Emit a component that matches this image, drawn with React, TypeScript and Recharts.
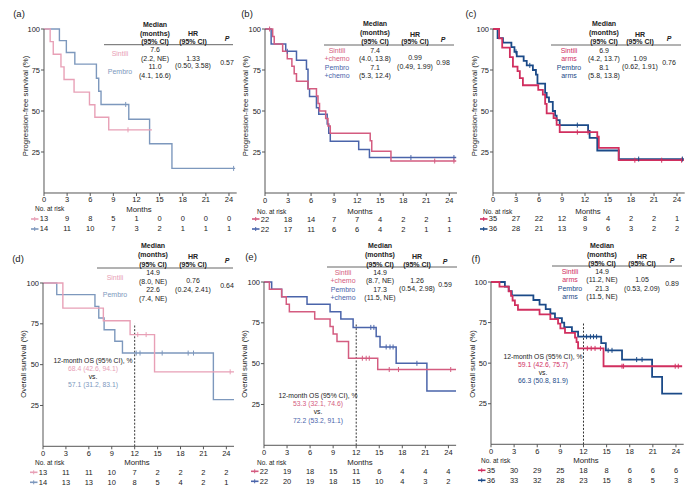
import React from 'react';
import { ComposedChart, Line, Scatter, XAxis, YAxis, ReferenceLine } from 'recharts';

const FONT = '"Liberation Sans", Arial, sans-serif';
const MONTH_TICKS = [0, 3, 6, 9, 12, 15, 18, 21, 24];
const SURV_TICKS = [25, 50, 75, 100];

// ---------- (a) PFS, monotherapy ----------
const aSinT = [0, 0.8, 1.2, 2.2, 2.6, 3.9, 5.9, 6.6, 8.4, 14.0];
const aSinS = [100, 92.3, 84.6, 76.9, 69.2, 61.5, 53.8, 46.2, 38.5, 38.5];
const aSinC = [10.9];
const aPemT = [0, 2.0, 2.9, 4.0, 6.8, 7.1, 7.4, 11.0, 13.7, 16.6, 24.8];
const aPemS = [100, 92.9, 85.7, 78.6, 70.0, 62.0, 54.0, 45.0, 30.0, 15.0, 15.0];
const aPemC = [10.6, 24.6];
const aRiskSin = [13, 9, 8, 5, 1, 0, 0, 0, 0];
const aRiskPem = [14, 11, 10, 7, 3, 2, 1, 1, 1];

// ---------- (b) PFS, + chemo ----------
const bSinT = [0, 1.0, 1.2, 2.3, 2.9, 3.5, 3.8, 4.1, 5.6, 6.7, 6.9, 7.1, 7.9, 8.2, 8.5, 13.7, 13.9, 16.4, 24.9];
const bSinS = [100, 95.5, 90.9, 86.4, 81.8, 77.3, 72.7, 68.2, 63.6, 59.1, 54.5, 50.0, 45.5, 40.9, 36.4, 31.8, 25.5, 19.5, 19.5];
const bSinC = [0.6, 22.1, 24.6];
const bPemT = [0, 0.8, 2.7, 4.1, 5.4, 5.6, 5.8, 6.7, 7.0, 8.1, 8.3, 8.5, 12.2, 13.6, 24.9];
const bPemS = [100, 90.9, 86.4, 81.0, 75.5, 63.6, 58.8, 52.0, 48.0, 42.0, 36.4, 31.6, 26.5, 21.6, 21.6];
const bPemC = [2.9, 19.0, 24.6];
const bRiskSin = [22, 18, 14, 7, 7, 4, 2, 2, 1];
const bRiskPem = [22, 17, 11, 6, 6, 4, 2, 1, 1];

// ---------- (c) PFS, pooled arms ----------
const cSinT = [0, 0.8, 1.2, 2.2, 2.6, 3.2, 3.5, 3.9, 5.9, 6.5, 6.8, 7.0, 7.9, 8.3, 8.7, 13.6, 13.8, 16.4, 24.9];
const cSinS = [100, 94.3, 88.6, 82.9, 77.1, 74.3, 70.0, 65.7, 62.9, 60.0, 54.3, 48.6, 45.7, 41.5, 37.1, 34.3, 27.5, 20.0, 20.0];
const cSinC = [11.0, 12.4, 18.5, 22.0, 24.6];
const cPemT = [0, 0.6, 1.3, 2.4, 2.8, 3.1, 4.0, 4.4, 5.2, 5.6, 5.8, 6.8, 7.0, 7.3, 7.8, 8.1, 8.3, 8.7, 12.4, 12.6, 13.6, 16.4, 24.9];
const cPemS = [100, 94.4, 91.7, 88.9, 86.1, 83.3, 80.6, 77.8, 75.0, 72.2, 66.7, 61.1, 58.3, 55.6, 50.0, 47.2, 44.4, 41.4, 37.9, 33.6, 25.9, 20.7, 20.7];
const cPemC = [3.0, 4.8, 11.0, 19.0, 24.7];
const cRiskSin = [35, 27, 22, 12, 8, 4, 2, 2, 1];
const cRiskPem = [36, 28, 21, 13, 9, 6, 3, 2, 2];

// ---------- (d) OS, monotherapy ----------
const dSinT = [0, 2.6, 7.9, 11.4, 14.6, 25];
const dSinS = [100, 84.6, 76.9, 68.4, 45.6, 45.6];
const dSinC = [12.4, 13.5, 24.5];
const dPemT = [0, 1.8, 6.8, 7.3, 8.0, 9.4, 10.4, 22.3, 25];
const dPemS = [100, 92.9, 85.7, 78.6, 71.4, 64.3, 57.1, 28.6, 28.6];
const dPemC = [12.2, 12.7, 15.6, 19.0, 19.7];
const dRiskSin = [13, 11, 11, 10, 7, 2, 2, 2, 2];
const dRiskPem = [14, 13, 13, 10, 8, 5, 4, 2, 1];

// ---------- (e) OS, + chemo ----------
const eSinT = [0, 0.7, 2.3, 2.9, 3.3, 6.6, 8.6, 9.0, 9.5, 11.0, 14.8, 25];
const eSinS = [100, 95.5, 90.9, 86.4, 81.8, 77.3, 72.7, 68.2, 63.6, 53.3, 46.4, 46.4];
const eSinC = [12.8, 13.3, 13.7, 16.3, 17.5, 24.3];
const ePemT = [0, 1.0, 2.3, 5.6, 8.6, 10.0, 11.6, 14.6, 15.1, 17.2, 21.2, 25];
const ePemS = [100, 95.5, 90.9, 86.4, 81.8, 77.3, 72.2, 66.7, 60.2, 50.2, 33.3, 33.3];
const ePemC = [13.9, 14.3, 15.9, 16.4, 16.8, 19.9];
const eRiskSin = [22, 19, 18, 15, 11, 6, 4, 4, 4];
const eRiskPem = [22, 20, 19, 18, 15, 10, 4, 3, 2];

// ---------- (f) OS, pooled arms ----------
const fSinT = [0, 1.1, 2.3, 2.6, 2.8, 3.1, 3.5, 6.3, 7.7, 8.7, 9.0, 9.6, 10.9, 11.1, 11.3, 14.6, 24.8];
const fSinS = [100, 97.1, 94.3, 91.4, 88.6, 85.7, 82.9, 80.0, 77.1, 74.3, 71.4, 68.6, 65.7, 62.9, 59.1, 48.1, 48.1];
const fSinC = [12.5, 13.0, 13.5, 14.2, 17.0, 17.2, 23.9, 24.3];
const fPemT = [0, 1.8, 2.3, 2.7, 5.5, 6.3, 7.1, 7.7, 8.3, 9.2, 9.5, 10.5, 11.3, 14.3, 14.9, 17.0, 20.9, 22.2, 24.8];
const fPemS = [100, 97.2, 94.4, 91.7, 88.9, 86.1, 83.3, 80.6, 77.8, 75.0, 72.2, 69.4, 66.3, 62.4, 57.9, 52.2, 41.5, 31.2, 31.2];
const fPemC = [12.4, 12.9, 13.3, 13.7, 15.2, 15.7, 18.9, 19.6];
const fRiskSin = [35, 30, 29, 25, 18, 8, 6, 6, 6];
const fRiskPem = [36, 33, 32, 28, 23, 15, 8, 5, 3];

// ---------- colours ----------
const PAL = {
  light: { sin: '#e8a0b6', pem: '#7d98bd', w: 1.4 },
  mid: { sin: '#d45c80', pem: '#4a64aa', w: 1.5 },
  dark: { sin: '#d12f5f', pem: '#1b4a88', w: 1.8 },
};

function steps(t: number[], s: number[]) {
  return t.map((x, i) => ({ t: x, s: s[i] }));
}
function valueAt(t: number[], s: number[], x: number) {
  let v = s[0];
  for (let i = 0; i < t.length; i++) if (t[i] <= x) v = s[i];
  return v;
}
function censorPts(t: number[], s: number[], c: number[]) {
  return c.map((x) => ({ t: x, s: valueAt(t, s, x) }));
}

type Geom = { x0: number; x25: number; y100: number; y0: number };

function KMPanel(props: {
  g: Geom;
  pal: { sin: string; pem: string; w: number };
  sinT: number[]; sinS: number[]; sinC: number[];
  pemT: number[]; pemS: number[]; pemC: number[];
  riskSin: number[]; riskPem: number[];
  dashed?: boolean;
}) {
  const { g, pal } = props;
  const W = g.x25 - g.x0 + 48;
  const H = g.y0 - g.y100 + 55;
  const tick = (p: any) => {
    const { x, y, payload } = p;
    const i = MONTH_TICKS.indexOf(payload.value);
    const ay = y - 3;
    const common = { textAnchor: 'middle' as const, dominantBaseline: 'central' as const, fontSize: 7.5, fontFamily: FONT, fill: '#222' };
    return (
      <g>
        <text x={x} y={ay + 7} {...common}>{payload.value}</text>
        <text x={x} y={ay + 26} {...common}>{props.riskSin[i]}</text>
        <text x={x} y={ay + 36} {...common}>{props.riskPem[i]}</text>
        {i === 0 && (
          <g>
            <line x1={x - 13} x2={x - 5.5} y1={ay + 26} y2={ay + 26} stroke={pal.sin} strokeWidth={1.6} />
            <line x1={x - 9.3} x2={x - 9.3} y1={ay + 24} y2={ay + 28} stroke={pal.sin} strokeWidth={1} />
            <line x1={x - 13} x2={x - 5.5} y1={ay + 36} y2={ay + 36} stroke={pal.pem} strokeWidth={1.6} />
            <line x1={x - 9.3} x2={x - 9.3} y1={ay + 34} y2={ay + 38} stroke={pal.pem} strokeWidth={1} />
          </g>
        )}
      </g>
    );
  };
  const cens = (color: string) => (p: any) => (
    <line x1={p.cx} x2={p.cx} y1={p.cy - 2.5} y2={p.cy + 2.5} stroke={color} strokeWidth={1} />
  );
  return (
    <div style={{ position: 'absolute', left: g.x0 - 44, top: g.y100 - 10 }}>
      <ComposedChart width={W} height={H} margin={{ top: 10, right: 4, left: 14, bottom: 5 }}>
        <XAxis
          type="number" dataKey="t" domain={[0, 25]} ticks={MONTH_TICKS} interval={0}
          tick={tick} tickSize={3} tickMargin={0} height={40} stroke="#555" allowDataOverflow
        />
        <YAxis
          type="number" dataKey="s" domain={[0, 100]} ticks={SURV_TICKS} interval={0}
          tickSize={3} tickMargin={1} width={30} stroke="#555"
          tick={{ fontSize: 7.5, fill: '#222', fontFamily: FONT }}
        />
        {props.dashed && (
          <ReferenceLine segment={[{ x: 12, y: 0 }, { x: 12, y: 75 }]} stroke="#333" strokeDasharray="2 1.6" strokeWidth={1} />
        )}
        <Line data={steps(props.pemT, props.pemS)} dataKey="s" type="stepAfter" stroke={pal.pem} strokeWidth={pal.w} dot={false} isAnimationActive={false} />
        <Line data={steps(props.sinT, props.sinS)} dataKey="s" type="stepAfter" stroke={pal.sin} strokeWidth={pal.w} dot={false} isAnimationActive={false} />
        <Scatter data={censorPts(props.pemT, props.pemS, props.pemC)} dataKey="s" shape={cens(pal.pem)} isAnimationActive={false} />
        <Scatter data={censorPts(props.sinT, props.sinS, props.sinC)} dataKey="s" shape={cens(pal.sin)} isAnimationActive={false} />
      </ComposedChart>
    </div>
  );
}

type T = { x: number; y: number; s: string; c?: string; b?: boolean; i?: boolean; fs?: number; a?: 'start' | 'middle' | 'end'; r?: boolean };

function tableTexts(
  cx: { med: number; hr: number; p: number; lab: number },
  hy: { med: number; mon: number; ci: number; hr: number; p: number },
  rows: { y1: number; y2: number; y3: number; y4: number; hr1: number; hr2: number; p: number },
  labels: [string, string, string, string],
  vals: [string, string, string, string, string, string, string],
  col: { sin: string; pem: string }
): T[] {
  const D = '#222';
  return [
    { x: cx.med, y: hy.med, s: 'Median', b: true },
    { x: cx.med, y: hy.mon, s: '(months)', b: true },
    { x: cx.med, y: hy.ci, s: '(95% CI)', b: true },
    { x: cx.hr, y: hy.hr, s: 'HR', b: true },
    { x: cx.hr, y: hy.ci, s: '(95% CI)', b: true },
    { x: cx.p, y: hy.p, s: 'P', b: true, i: true },
    { x: cx.lab, y: rows.y1, s: labels[0], c: col.sin },
    { x: cx.lab, y: rows.y2, s: labels[1], c: col.sin },
    { x: cx.lab, y: rows.y3, s: labels[2], c: col.pem },
    { x: cx.lab, y: rows.y4, s: labels[3], c: col.pem },
    { x: cx.med, y: rows.y1, s: vals[0], c: D },
    { x: cx.med, y: rows.y2, s: vals[1], c: D },
    { x: cx.med, y: rows.y3, s: vals[2], c: D },
    { x: cx.med, y: rows.y4, s: vals[3], c: D },
    { x: cx.hr, y: rows.hr1, s: vals[4], c: D },
    { x: cx.hr, y: rows.hr2, s: vals[5], c: D },
    { x: cx.p, y: rows.p, s: vals[6], c: D },
  ];
}

const TEXTS: T[] = [
  // panel letters
  { x: 19, y: 13, s: '(a)', fs: 9.5 },
  { x: 247, y: 13, s: '(b)', fs: 9.5 },
  { x: 471, y: 13, s: '(c)', fs: 9.5 },
  { x: 18, y: 258, s: '(d)', fs: 9.5 },
  { x: 251, y: 256, s: '(e)', fs: 9.5 },
  { x: 476, y: 258, s: '(f)', fs: 9.5 },
  // y labels
  { x: 25, y: 106, s: 'Progression-free survival (%)', r: true, fs: 7.8 },
  { x: 245, y: 106, s: 'Progression-free survival (%)', r: true, fs: 7.8 },
  { x: 474, y: 106, s: 'Progression-free survival (%)', r: true, fs: 7.8 },
  { x: 23, y: 364, s: 'Overall survival (%)', r: true, fs: 7.8 },
  { x: 244, y: 364, s: 'Overall survival (%)', r: true, fs: 7.8 },
  { x: 472, y: 364, s: 'Overall survival (%)', r: true, fs: 7.8 },
  // Months
  { x: 139, y: 209, s: 'Months', fs: 7.8 },
  { x: 360, y: 211, s: 'Months', fs: 7.8 },
  { x: 588, y: 211, s: 'Months', fs: 7.8 },
  { x: 137, y: 462, s: 'Months', fs: 7.8 },
  { x: 360, y: 462, s: 'Months', fs: 7.8 },
  { x: 586, y: 460, s: 'Months', fs: 7.8 },
  // No. at risk
  { x: 35, y: 208, s: 'No. at risk', a: 'start', fs: 6.5 },
  { x: 257, y: 211, s: 'No. at risk', a: 'start', fs: 6.5 },
  { x: 483, y: 211, s: 'No. at risk', a: 'start', fs: 6.5 },
  { x: 35, y: 462, s: 'No. at risk', a: 'start', fs: 6.5 },
  { x: 257, y: 462, s: 'No. at risk', a: 'start', fs: 6.5 },
  { x: 481, y: 460, s: 'No. at risk', a: 'start', fs: 6.5 },
  // tables
  ...tableTexts(
    { med: 155, hr: 193, p: 227, lab: 120 },
    { med: 24, mon: 33, ci: 41, hr: 33, p: 38 },
    { y1: 49, y2: 58, y3: 66, y4: 75, hr1: 58, hr2: 65, p: 62 },
    ['', '', '', ''],
    ['7.6', '(2.2, NE)', '11.0', '(4.1, 16.6)', '1.33', '(0.50, 3.58)', '0.57'],
    PAL.light
  ),
  { x: 120, y: 53, s: 'Sintili', c: PAL.light.sin },
  { x: 120, y: 71, s: 'Pembro', c: PAL.light.pem },
  ...tableTexts(
    { med: 375, hr: 415, p: 443, lab: 337 },
    { med: 23, mon: 32, ci: 41, hr: 34, p: 39 },
    { y1: 50, y2: 58, y3: 67, y4: 75, hr1: 57, hr2: 66, p: 62 },
    ['Sintili', '+chemo', 'Pembro', '+chemo'],
    ['7.4', '(4.0, 13.8)', '7.1', '(5.3, 12.4)', '0.99', '(0.49, 1.99)', '0.98'],
    PAL.mid
  ),
  ...tableTexts(
    { med: 604, hr: 640, p: 669, lab: 569 },
    { med: 23, mon: 32, ci: 41, hr: 34, p: 38 },
    { y1: 50, y2: 58, y3: 67, y4: 75, hr1: 58, hr2: 66, p: 62 },
    ['Sintili', 'arms', 'Pembro', 'arms'],
    ['6.9', '(4.2, 13.7)', '8.1', '(5.8, 13.8)', '1.09', '(0.62, 1.91)', '0.76'],
    PAL.dark
  ),
  ...tableTexts(
    { med: 153, hr: 193, p: 227, lab: 115 },
    { med: 245, mon: 254, ci: 264, hr: 256, p: 260 },
    { y1: 272, y2: 281, y3: 289, y4: 298, hr1: 280, hr2: 289, p: 285 },
    ['', '', '', ''],
    ['14.9', '(8.0, NE)', '22.6', '(7.4, NE)', '0.76', '(0.24, 2.41)', '0.64'],
    PAL.light
  ),
  { x: 115, y: 277, s: 'Sintili', c: PAL.light.sin },
  { x: 115, y: 294, s: 'Pembro', c: PAL.light.pem },
  ...tableTexts(
    { med: 380, hr: 417, p: 445, lab: 343 },
    { med: 245, mon: 254, ci: 264, hr: 256, p: 261 },
    { y1: 272, y2: 280, y3: 289, y4: 297, hr1: 280, hr2: 288, p: 284 },
    ['Sintili', '+chemo', 'Pembro', '+chemo'],
    ['14.9', '(8.7, NE)', '17.3', '(11.5, NE)', '1.26', '(0.54, 2.98)', '0.59'],
    PAL.mid
  ),
  ...tableTexts(
    { med: 602, hr: 642, p: 672, lab: 570 },
    { med: 245, mon: 254, ci: 263, hr: 256, p: 260 },
    { y1: 271, y2: 279, y3: 288, y4: 296, hr1: 279, hr2: 288, p: 283 },
    ['Sintili', 'arms', 'Pembro', 'arms'],
    ['14.9', '(11.2, NE)', '21.3', '(11.5, NE)', '1.05', '(0.53, 2.09)', '0.89'],
    PAL.dark
  ),
  // 12-month OS notes
  { x: 93, y: 360, s: '12-month OS (95% CI), %', fs: 6.8 },
  { x: 93, y: 368, s: '68.4 (42.6, 94.1)', c: PAL.light.sin, fs: 6.8 },
  { x: 93, y: 376, s: 'vs.', fs: 6.8 },
  { x: 93, y: 384, s: '57.1 (31.2, 83.1)', c: PAL.light.pem, fs: 6.8 },
  { x: 318, y: 395, s: '12-month OS (95% CI), %', fs: 6.8 },
  { x: 318, y: 403, s: '53.3 (32.1, 74.6)', c: PAL.mid.sin, fs: 6.8 },
  { x: 318, y: 411, s: 'vs.', fs: 6.8 },
  { x: 318, y: 420, s: '72.2 (53.2, 91.1)', c: PAL.mid.pem, fs: 6.8 },
  { x: 543, y: 356, s: '12-month OS (95% CI), %', fs: 6.8 },
  { x: 543, y: 364, s: '59.1 (42.6, 75.7)', c: PAL.dark.sin, fs: 6.8 },
  { x: 543, y: 372, s: 'vs.', fs: 6.8 },
  { x: 543, y: 380, s: '66.3 (50.8, 81.9)', c: PAL.dark.pem, fs: 6.8 },
];

const RULES = [
  { x1: 104, x2: 233, y: 44.7 },
  { x1: 324, x2: 454, y: 45 },
  { x1: 551, x2: 681, y: 45 },
  { x1: 97, x2: 233, y: 268 },
  { x1: 327, x2: 457, y: 267 },
  { x1: 552, x2: 682, y: 266 },
];

const GEOM: Record<string, Geom> = {
  a: { x0: 44, x25: 236.7, y100: 29, y0: 193 },
  b: { x0: 264.7, x25: 456.7, y100: 29, y0: 193 },
  c: { x0: 493, x25: 684.7, y100: 29, y0: 193 },
  d: { x0: 43.3, x25: 234.3, y100: 282.7, y0: 446 },
  e: { x0: 264.3, x25: 456.4, y100: 281.7, y0: 445 },
  f: { x0: 491, x25: 683.7, y100: 281.7, y0: 444 },
};

export default function App() {
  return (
    <div style={{ position: 'absolute', left: 0, top: 0, width: 700, height: 489, background: '#fff', overflow: 'hidden' }}>
      <KMPanel g={GEOM.a} pal={PAL.light} sinT={aSinT} sinS={aSinS} sinC={aSinC} pemT={aPemT} pemS={aPemS} pemC={aPemC} riskSin={aRiskSin} riskPem={aRiskPem} />
      <KMPanel g={GEOM.b} pal={PAL.mid} sinT={bSinT} sinS={bSinS} sinC={bSinC} pemT={bPemT} pemS={bPemS} pemC={bPemC} riskSin={bRiskSin} riskPem={bRiskPem} />
      <KMPanel g={GEOM.c} pal={PAL.dark} sinT={cSinT} sinS={cSinS} sinC={cSinC} pemT={cPemT} pemS={cPemS} pemC={cPemC} riskSin={cRiskSin} riskPem={cRiskPem} />
      <KMPanel g={GEOM.d} pal={PAL.light} sinT={dSinT} sinS={dSinS} sinC={dSinC} pemT={dPemT} pemS={dPemS} pemC={dPemC} riskSin={dRiskSin} riskPem={dRiskPem} dashed />
      <KMPanel g={GEOM.e} pal={PAL.mid} sinT={eSinT} sinS={eSinS} sinC={eSinC} pemT={ePemT} pemS={ePemS} pemC={ePemC} riskSin={eRiskSin} riskPem={eRiskPem} dashed />
      <KMPanel g={GEOM.f} pal={PAL.dark} sinT={fSinT} sinS={fSinS} sinC={fSinC} pemT={fPemT} pemS={fPemS} pemC={fPemC} riskSin={fRiskSin} riskPem={fRiskPem} dashed />
      <svg width={700} height={489} style={{ position: 'absolute', left: 0, top: 0, pointerEvents: 'none' }}>
        {RULES.map((r, i) => (
          <line key={'r' + i} x1={r.x1} x2={r.x2} y1={r.y} y2={r.y} stroke="#666" strokeWidth={1} />
        ))}
        {TEXTS.filter((t) => t.s !== '').map((t, i) => (
          <text
            key={i}
            x={t.x}
            y={t.y}
            textAnchor={t.a || 'middle'}
            dominantBaseline="central"
            fontFamily={FONT}
            fontSize={t.fs || 7}
            fontWeight={t.b ? 'bold' : 'normal'}
            fontStyle={t.i ? 'italic' : 'normal'}
            fill={t.c || '#222'}
            transform={t.r ? `rotate(-90 ${t.x} ${t.y})` : undefined}
          >
            {t.s}
          </text>
        ))}
      </svg>
    </div>
  );
}
